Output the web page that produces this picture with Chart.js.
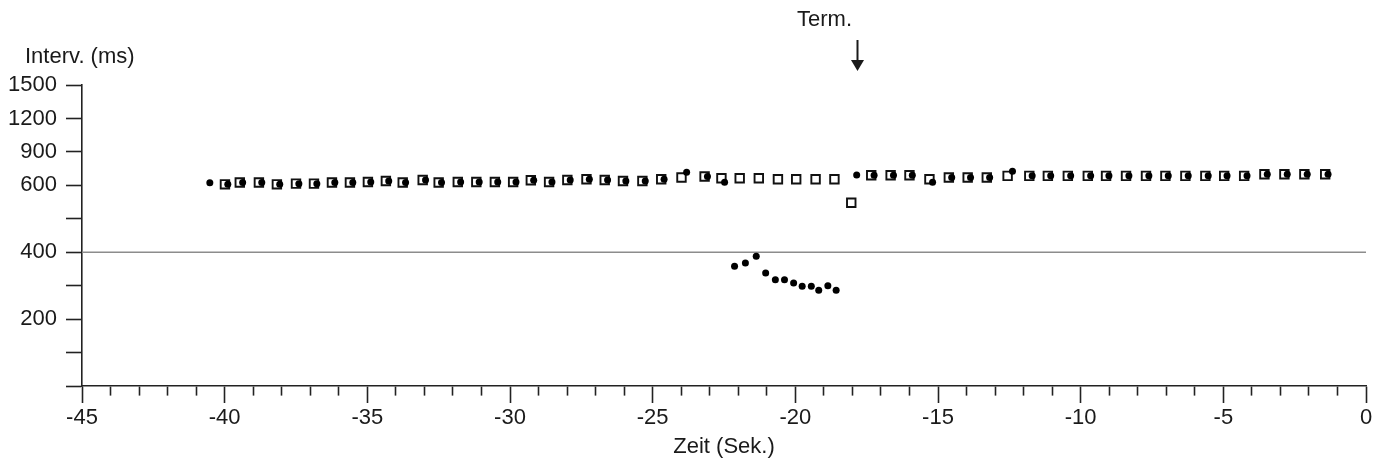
<!DOCTYPE html>
<html>
<head>
<meta charset="utf-8">
<script src="https://cdn.jsdelivr.net/npm/chart.js@4.4.1/dist/chart.umd.min.js"></script>
<style>
html,body{margin:0;padding:0;background:#fff;}
#wrap{width:1386px;height:466px;position:relative;}
</style>
</head>
<body>
<div id="wrap"><canvas id="c" width="1386" height="466"></canvas></div>
<script>
// ---- data ----
const xMin = -45;
const xMax = 0;
const xLabelTicks = [-45, -40, -35, -30, -25, -20, -15, -10, -5, 0];
const yTickMs = [0, 100, 200, 300, 400, 500, 600, 900, 1200, 1500];
const yLabelMs = [200, 400, 600, 900, 1200, 1500];
const refLineMs = 400;
const termTime = -17.85;
const termLabel = 'Term.';
const yTitle = 'Interv. (ms)';
const xTitle = 'Zeit (Sek.)';

// open squares
const squareTime = [-39.99,-39.47,-38.80,-38.17,-37.50,-36.87,-36.24,-35.61,-34.98,-34.35,
  -33.76,-33.06,-32.50,-31.83,-31.18,-30.53,-29.89,-29.27,-28.63,-27.99,
  -27.32,-26.68,-26.04,-25.36,-24.70,-23.99,-23.18,-22.59,-21.95,-21.28,
  -20.61,-19.97,-19.29,-18.63,-18.04,-17.34,-16.66,-16.00,-15.30,-14.62,
  -13.96,-13.29,-12.56,-11.80,-11.15,-10.45,-9.75,-9.11,-8.41,-7.71,
  -7.03,-6.33,-5.63,-4.97,-4.27,-3.56,-2.86,-2.16,-1.43];
const squareMs = [609,625,625,609,615,615,625,625,630,639,
  625,648,625,630,630,630,630,645,630,648,
  655,648,639,639,655,670,679,664,664,664,
  655,655,655,655,548,691,691,691,655,670,
  670,670,685,685,685,685,685,685,685,685,
  685,685,685,685,685,700,700,700,700];

// filled dots
const dotTime = [-40.52,
  -39.89,-39.37,-38.70,-38.07,-37.40,-36.77,-36.14,-35.51,-34.88,-34.25,
  -33.66,-32.96,-32.40,-31.73,-31.08,-30.43,-29.79,-29.17,-28.53,-27.89,
  -27.22,-26.58,-25.94,-25.26,-24.60,
  -23.81,-23.08,-22.48,
  -22.13,-21.75,-21.37,-21.04,-20.70,-20.38,-20.06,-19.76,-19.44,-19.18,-18.86,-18.57,
  -17.85,-17.24,-16.56,-15.90,-15.19,-14.52,-13.86,-13.19,-12.39,
  -11.70,-11.05,-10.35,-9.65,-9.01,-8.31,-7.61,-6.93,-6.23,-5.53,-4.87,-4.17,
  -3.46,-2.76,-2.06,-1.33];
const dotMs = [624,
  609,625,625,609,615,615,625,625,630,639,
  625,648,625,630,630,630,630,645,630,648,
  655,648,639,639,655,
  717,679,627,
  358,368,388,338,318,318,308,298,298,286,300,286,
  693,691,691,691,627,670,670,670,727,
  685,685,685,685,685,685,685,685,685,685,685,685,
  700,700,700,700];

// ---- broken y scale: linear to 600, compressed above ----
function toDisplay(v) { return v <= 600 ? v : 600 + (v - 600) / 3; }
function fromDisplay(d) { return d <= 600 ? d : 600 + (d - 600) * 3; }

const FONT = "'Liberation Sans', Arial, sans-serif";
const INK = '#1a1a1a';

const annot = {
  id: 'annot',
  afterDraw(chart) {
    const ctx = chart.ctx;
    const xs = chart.scales.x;
    ctx.save();
    ctx.fillStyle = INK;
    ctx.font = '22px ' + FONT;
    ctx.textBaseline = 'alphabetic';
    ctx.textAlign = 'left';
    ctx.fillText(yTitle, 25, 63);
    const ax = Math.round(xs.getPixelForValue(termTime)) + 0.5;
    ctx.textAlign = 'center';
    ctx.fillText(termLabel, ax - 33, 26);
    ctx.strokeStyle = INK;
    ctx.lineWidth = 2;
    ctx.beginPath();
    ctx.moveTo(ax, 40);
    ctx.lineTo(ax, 63);
    ctx.stroke();
    ctx.beginPath();
    ctx.moveTo(ax - 6.5, 60);
    ctx.lineTo(ax + 6.5, 60);
    ctx.lineTo(ax, 71);
    ctx.closePath();
    ctx.fill();
    ctx.restore();
  }
};

new Chart(document.getElementById('c'), {
  type: 'scatter',
  data: {
    datasets: [
      {
        label: 'dots',
        data: dotTime.map((t, i) => ({x: t, y: toDisplay(dotMs[i])})),
        pointStyle: 'circle',
        pointRadius: 3.5,
        backgroundColor: '#000',
        borderWidth: 0
      },
      {
        label: 'squares',
        data: squareTime.map((t, i) => ({x: t, y: toDisplay(squareMs[i])})),
        pointStyle: 'rect',
        pointRadius: 6,
        backgroundColor: '#fff',
        borderColor: '#111',
        borderWidth: 1.9
      },
      {
        type: 'line',
        label: 'ref',
        data: [{x: xMin, y: toDisplay(refLineMs)}, {x: xMax, y: toDisplay(refLineMs)}],
        borderColor: '#8c8c8c',
        borderWidth: 1.6,
        pointRadius: 0,
        showLine: true,
        fill: false
      }
    ]
  },
  options: {
    responsive: false,
    animation: false,
    devicePixelRatio: 1,
    layout: {padding: {top: 85, right: 20, left: 0, bottom: 0}},
    plugins: {legend: {display: false}, tooltip: {enabled: false}},
    scales: {
      x: {
        type: 'linear',
        min: xMin,
        max: xMax,
        afterFit(s) { s.height = 80; },
        ticks: {
          stepSize: 1,
          autoSkip: false,
          maxRotation: 0,
          padding: 2,
          color: INK,
          font: {family: FONT, size: 22},
          callback: (v) => xLabelTicks.includes(Math.round(v)) ? String(Math.round(v)) : ''
        },
        grid: {
          drawOnChartArea: false,
          drawTicks: true,
          tickLength: 17,
          tickColor: '#222',
          tickWidth: 1.6,
          tickBorderDash: (c) => (c.tick && xLabelTicks.includes(Math.round(c.tick.value))) ? [] : [9, 40]
        },
        border: {display: true, color: '#222', width: 1.6},
        title: {
          display: true,
          text: xTitle,
          color: INK,
          font: {family: FONT, size: 22},
          padding: {top: 0, bottom: 6}
        }
      },
      y: {
        type: 'linear',
        min: 0,
        max: toDisplay(1500),
        afterFit(s) { s.width = 82; },
        afterBuildTicks(s) { s.ticks = yTickMs.map(v => ({value: toDisplay(v)})); },
        ticks: {
          autoSkip: false,
          padding: 9,
          color: INK,
          font: {family: FONT, size: 22},
          callback: (v) => {
            const ms = Math.round(fromDisplay(v));
            return yLabelMs.includes(ms) ? String(ms) : '';
          }
        },
        grid: {
          drawOnChartArea: false,
          drawTicks: true,
          tickLength: 16,
          tickColor: '#222',
          tickWidth: 1.6
        },
        border: {display: true, color: '#222', width: 1.6}
      }
    }
  },
  plugins: [annot]
});
</script>
</body>
</html>
